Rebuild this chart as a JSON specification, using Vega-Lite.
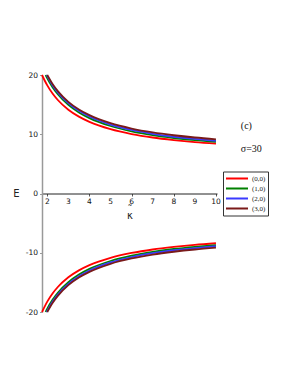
{
  "$schema": "https://vega.github.io/schema/vega-lite/v6.json",
  "autosize": {"type": "none"},
  "width": 175,
  "height": 237,
  "padding": {"left": 42, "top": 75, "right": 74, "bottom": 64},
  "background": "white",
  "config": {"view": {"stroke": null}},
  "layer": [
    {
      "data": {"values": [
        {"k":1.75,"E":20.0,"s":"(0,0)","b":"up"},{"k":2,"E":18.24,"s":"(0,0)","b":"up"},{"k":2.25,"E":16.87,"s":"(0,0)","b":"up"},{"k":2.5,"E":15.78,"s":"(0,0)","b":"up"},{"k":3,"E":14.14,"s":"(0,0)","b":"up"},{"k":3.5,"E":12.97,"s":"(0,0)","b":"up"},{"k":4,"E":12.09,"s":"(0,0)","b":"up"},{"k":5,"E":10.86,"s":"(0,0)","b":"up"},{"k":6,"E":10.04,"s":"(0,0)","b":"up"},{"k":7,"E":9.45,"s":"(0,0)","b":"up"},{"k":8,"E":9.02,"s":"(0,0)","b":"up"},{"k":9,"E":8.67,"s":"(0,0)","b":"up"},{"k":10,"E":8.40,"s":"(0,0)","b":"up"},
        {"k":1.92,"E":20.0,"s":"(1,0)","b":"up"},{"k":2,"E":19.44,"s":"(1,0)","b":"up"},{"k":2.25,"E":17.95,"s":"(1,0)","b":"up"},{"k":2.5,"E":16.76,"s":"(1,0)","b":"up"},{"k":3,"E":14.97,"s":"(1,0)","b":"up"},{"k":3.5,"E":13.69,"s":"(1,0)","b":"up"},{"k":4,"E":12.73,"s":"(1,0)","b":"up"},{"k":5,"E":11.39,"s":"(1,0)","b":"up"},{"k":6,"E":10.49,"s":"(1,0)","b":"up"},{"k":7,"E":9.85,"s":"(1,0)","b":"up"},{"k":8,"E":9.37,"s":"(1,0)","b":"up"},{"k":9,"E":9.00,"s":"(1,0)","b":"up"},{"k":10,"E":8.70,"s":"(1,0)","b":"up"},
        {"k":1.97,"E":20.0,"s":"(2,0)","b":"up"},{"k":2,"E":19.80,"s":"(2,0)","b":"up"},{"k":2.25,"E":18.28,"s":"(2,0)","b":"up"},{"k":2.5,"E":17.07,"s":"(2,0)","b":"up"},{"k":3,"E":15.26,"s":"(2,0)","b":"up"},{"k":3.5,"E":13.96,"s":"(2,0)","b":"up"},{"k":4,"E":12.99,"s":"(2,0)","b":"up"},{"k":5,"E":11.63,"s":"(2,0)","b":"up"},{"k":6,"E":10.72,"s":"(2,0)","b":"up"},{"k":7,"E":10.07,"s":"(2,0)","b":"up"},{"k":8,"E":9.58,"s":"(2,0)","b":"up"},{"k":9,"E":9.21,"s":"(2,0)","b":"up"},{"k":10,"E":8.90,"s":"(2,0)","b":"up"},
        {"k":2.0,"E":20.0,"s":"(3,0)","b":"up"},{"k":2.25,"E":18.48,"s":"(3,0)","b":"up"},{"k":2.5,"E":17.28,"s":"(3,0)","b":"up"},{"k":3,"E":15.47,"s":"(3,0)","b":"up"},{"k":3.5,"E":14.18,"s":"(3,0)","b":"up"},{"k":4,"E":13.22,"s":"(3,0)","b":"up"},{"k":5,"E":11.86,"s":"(3,0)","b":"up"},{"k":6,"E":10.96,"s":"(3,0)","b":"up"},{"k":7,"E":10.31,"s":"(3,0)","b":"up"},{"k":8,"E":9.83,"s":"(3,0)","b":"up"},{"k":9,"E":9.45,"s":"(3,0)","b":"up"},{"k":10,"E":9.15,"s":"(3,0)","b":"up"},
        {"k":1.75,"E":-20.0,"s":"(0,0)","b":"down"},{"k":2,"E":-18.24,"s":"(0,0)","b":"down"},{"k":2.25,"E":-16.87,"s":"(0,0)","b":"down"},{"k":2.5,"E":-15.78,"s":"(0,0)","b":"down"},{"k":3,"E":-14.14,"s":"(0,0)","b":"down"},{"k":3.5,"E":-12.97,"s":"(0,0)","b":"down"},{"k":4,"E":-12.09,"s":"(0,0)","b":"down"},{"k":5,"E":-10.86,"s":"(0,0)","b":"down"},{"k":6,"E":-10.04,"s":"(0,0)","b":"down"},{"k":7,"E":-9.45,"s":"(0,0)","b":"down"},{"k":8,"E":-9.02,"s":"(0,0)","b":"down"},{"k":9,"E":-8.67,"s":"(0,0)","b":"down"},{"k":10,"E":-8.40,"s":"(0,0)","b":"down"},
        {"k":1.92,"E":-20.0,"s":"(1,0)","b":"down"},{"k":2,"E":-19.44,"s":"(1,0)","b":"down"},{"k":2.25,"E":-17.95,"s":"(1,0)","b":"down"},{"k":2.5,"E":-16.76,"s":"(1,0)","b":"down"},{"k":3,"E":-14.97,"s":"(1,0)","b":"down"},{"k":3.5,"E":-13.69,"s":"(1,0)","b":"down"},{"k":4,"E":-12.73,"s":"(1,0)","b":"down"},{"k":5,"E":-11.39,"s":"(1,0)","b":"down"},{"k":6,"E":-10.49,"s":"(1,0)","b":"down"},{"k":7,"E":-9.85,"s":"(1,0)","b":"down"},{"k":8,"E":-9.37,"s":"(1,0)","b":"down"},{"k":9,"E":-9.00,"s":"(1,0)","b":"down"},{"k":10,"E":-8.70,"s":"(1,0)","b":"down"},
        {"k":1.97,"E":-20.0,"s":"(2,0)","b":"down"},{"k":2,"E":-19.80,"s":"(2,0)","b":"down"},{"k":2.25,"E":-18.28,"s":"(2,0)","b":"down"},{"k":2.5,"E":-17.07,"s":"(2,0)","b":"down"},{"k":3,"E":-15.26,"s":"(2,0)","b":"down"},{"k":3.5,"E":-13.96,"s":"(2,0)","b":"down"},{"k":4,"E":-12.99,"s":"(2,0)","b":"down"},{"k":5,"E":-11.63,"s":"(2,0)","b":"down"},{"k":6,"E":-10.72,"s":"(2,0)","b":"down"},{"k":7,"E":-10.07,"s":"(2,0)","b":"down"},{"k":8,"E":-9.58,"s":"(2,0)","b":"down"},{"k":9,"E":-9.21,"s":"(2,0)","b":"down"},{"k":10,"E":-8.90,"s":"(2,0)","b":"down"},
        {"k":2.0,"E":-20.0,"s":"(3,0)","b":"down"},{"k":2.25,"E":-18.48,"s":"(3,0)","b":"down"},{"k":2.5,"E":-17.28,"s":"(3,0)","b":"down"},{"k":3,"E":-15.47,"s":"(3,0)","b":"down"},{"k":3.5,"E":-14.18,"s":"(3,0)","b":"down"},{"k":4,"E":-13.22,"s":"(3,0)","b":"down"},{"k":5,"E":-11.86,"s":"(3,0)","b":"down"},{"k":6,"E":-10.96,"s":"(3,0)","b":"down"},{"k":7,"E":-10.31,"s":"(3,0)","b":"down"},{"k":8,"E":-9.83,"s":"(3,0)","b":"down"},{"k":9,"E":-9.45,"s":"(3,0)","b":"down"},{"k":10,"E":-9.15,"s":"(3,0)","b":"down"}
      ]},
      "mark": {"type": "line", "strokeWidth": 1.8, "interpolate": "monotone"},
      "encoding": {
        "x": {"field": "k", "type": "quantitative",
              "scale": {"domain": [1.75, 10.05], "nice": false, "zero": false},
              "axis": {"orient": "bottom", "offset": -118.5, "values": [2,2.5,3,3.5,4,4.5,5,5.5,6,6.5,7,7.5,8,8.5,9,9.5,10],
                       "labels": false,
                       "grid": false, "domainColor": "#222", "domainWidth": 1,
                       "tickColor": "#555", "tickSize": 2.5,
                       "title": ["˜", "κ"], "titleFont": "DejaVu Sans", "titleFontSize": 10, "titleFontWeight": "normal",
                       "titleLineHeight": 6, "titlePadding": 8, "titleColor": "#222"}},
        "y": {"field": "E", "type": "quantitative",
              "scale": {"domain": [-20, 20], "nice": false},
              "axis": {"values": [-20,-15,-10,-5,0,5,10,15,20],
                       "labelExpr": "datum.value % 10 == 0 ? toString(datum.value) : ''",
                       "labelOverlap": false,
                       "grid": false, "domainColor": "#999", "domainWidth": 1.5,
                       "tickColor": "#999", "tickSize": 2.5, "labelFontSize": 7.5, "labelColor": "#111",
                       "labelFont": "DejaVu Sans", "labelPadding": 2,
                       "title": "E", "titleAngle": 0, "titleX": -26, "titleY": 118.5,
                       "titleAlign": "center", "titleBaseline": "middle",
                       "titleFont": "DejaVu Sans", "titleFontSize": 10, "titleFontWeight": "normal", "titleColor": "#222"}},
        "color": {"field": "s", "type": "nominal",
                  "scale": {"domain": ["(0,0)","(1,0)","(2,0)","(3,0)"], "range": ["#ff0000","#008000","#3a3aff","#7a1a1a"]},
                  "legend": {"orient": "none", "legendX": 181, "legendY": 96.5, "title": null,
                             "strokeColor": "#333", "padding": 2, "symbolType": "stroke",
                             "symbolSize": 484, "symbolStrokeWidth": 2, "labelFont": "Liberation Serif",
                             "labelFontSize": 7, "labelColor": "#222", "rowPadding": 0, "labelOffset": 3,
                             "clipHeight": 10}},
        "detail": {"field": "b", "type": "nominal"}
      }
    },
    {
      "data": {"values": [{"k":2},{"k":3},{"k":4},{"k":5},{"k":6},{"k":7},{"k":8},{"k":9},{"k":10}]},
      "mark": {"type": "text", "align": "center", "baseline": "top", "dy": 4.5, "font": "DejaVu Sans", "fontSize": 7.5, "color": "#111"},
      "encoding": {"x": {"field": "k", "type": "quantitative"}, "y": {"datum": 0}, "text": {"field": "k", "type": "quantitative"}}
    },
    {
      "data": {"values": [{"label": "(c)"}]},
      "mark": {"type": "text", "align": "left", "baseline": "middle", "font": "Liberation Serif", "fontSize": 10, "color": "#111"},
      "encoding": {"x": {"datum": 11.18}, "y": {"datum": 11.44}, "text": {"field": "label"}}
    },
    {
      "data": {"values": [{"label": "σ=30"}]},
      "mark": {"type": "text", "align": "left", "baseline": "middle", "font": "Liberation Serif", "fontSize": 10, "color": "#111"},
      "encoding": {"x": {"datum": 11.18}, "y": {"datum": 7.51}, "text": {"field": "label"}}
    }
  ]
}
